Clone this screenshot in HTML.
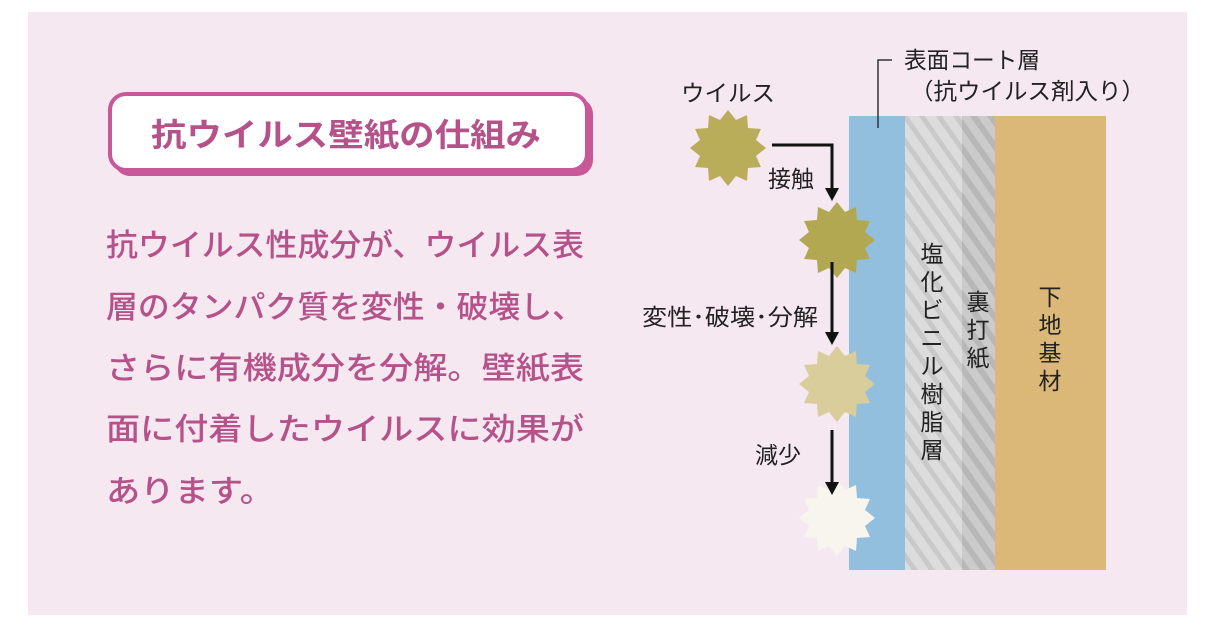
<!DOCTYPE html>
<html><head><meta charset="utf-8"><style>
html,body{margin:0;padding:0;background:#fff;}
svg{display:block;}
text{font-family:"Liberation Sans","Noto Sans CJK JP",sans-serif;}
</style></head><body>
<svg width="1221" height="640" viewBox="0 0 1221 640" xmlns="http://www.w3.org/2000/svg">
<defs>
<pattern id="st1" width="14" height="14" patternUnits="userSpaceOnUse" patternTransform="rotate(-35)">
<rect width="14" height="14" fill="#dcdcdc"/><rect width="5" height="14" fill="#c9c9c9"/>
</pattern>
<pattern id="st2" width="14" height="14" patternUnits="userSpaceOnUse" patternTransform="rotate(-35)">
<rect width="14" height="14" fill="#cbcbcb"/><rect width="6" height="14" fill="#b7b7b7"/>
</pattern>
<polygon id="star" points="0,-38 8,-28 19,-33 20,-20 33,-19 28,-8 38,0 28,8 33,19 20,20 19,33 8,28 0,38 -8,28 -19,33 -20,20 -33,19 -28,8 -38,0 -28,-8 -33,-19 -20,-20 -19,-33 -8,-28"/>
</defs>
<rect x="28" y="12" width="1159" height="603" fill="#f5e8f0"/>
<rect x="114" y="98" width="479" height="78" rx="16" fill="#c8589a"/>
<rect x="110" y="94" width="477" height="76" rx="16" fill="#fff" stroke="#c8589a" stroke-width="4"/>
<text x="346" y="146" font-size="32" font-weight="bold" fill="#b5528a" text-anchor="middle" textLength="390" lengthAdjust="spacingAndGlyphs">抗ウイルス壁紙の仕組み</text>
<g font-size="31" fill="#b5528a" font-weight="500">
<text x="106" y="256" textLength="478" lengthAdjust="spacingAndGlyphs">抗ウイルス性成分が、ウイルス表</text>
<text x="106" y="318" textLength="478" lengthAdjust="spacingAndGlyphs">層のタンパク質を変性・破壊し、</text>
<text x="106" y="379" textLength="478" lengthAdjust="spacingAndGlyphs">さらに有機成分を分解。壁紙表</text>
<text x="106" y="440" textLength="478" lengthAdjust="spacingAndGlyphs">面に付着したウイルスに効果が</text>
<text x="106" y="502" textLength="168" lengthAdjust="spacingAndGlyphs">あります。</text>
</g>
<rect x="849" y="116" width="56" height="454" fill="#93bfdf"/>
<rect x="905" y="116" width="57" height="454" fill="url(#st1)"/>
<rect x="962" y="116" width="33" height="454" fill="url(#st2)"/>
<rect x="995" y="116" width="111" height="454" fill="#dbb878"/>
<polyline points="878,128 878,60 892,60" fill="none" stroke="#333" stroke-width="1.5"/>
<g font-size="23" fill="#222">
<text x="904" y="68" textLength="136" lengthAdjust="spacingAndGlyphs">表面コート層</text>
<text x="910" y="99" textLength="235" lengthAdjust="spacingAndGlyphs">（抗ウイルス剤入り）</text>
<text x="681" y="101" textLength="94" lengthAdjust="spacingAndGlyphs">ウイルス</text>
<text x="768" y="187">接触</text>
<text x="642" y="325" textLength="176" lengthAdjust="spacingAndGlyphs">変性･破壊･分解</text>
<text x="755" y="463">減少</text>
</g>
<g font-size="23" fill="#222" text-anchor="middle">
<text x="932" y="262">塩</text><text x="932" y="290">化</text><text x="932" y="318">ビ</text><text x="932" y="346">ニ</text><text x="932" y="374">ル</text><text x="932" y="402">樹</text><text x="932" y="430">脂</text><text x="932" y="458">層</text>
<text x="978" y="310">裏</text><text x="978" y="338">打</text><text x="978" y="366">紙</text>
<text x="1050" y="305">下</text><text x="1050" y="333">地</text><text x="1050" y="361">基</text><text x="1050" y="389">材</text>
</g>
<use href="#star" x="728" y="148" fill="#b9ad5a"/>
<use href="#star" x="837" y="240" fill="#b3a852"/>
<use href="#star" x="837" y="384" fill="#d8cd9b"/>
<use href="#star" x="837" y="518" fill="#f7f5ee"/>
<g stroke="#111" stroke-width="3" fill="none">
<polyline points="772,145 832,145 832,190"/>
<line x1="832" y1="262" x2="832" y2="334"/>
<line x1="832" y1="430" x2="832" y2="484"/>
</g>
<g fill="#111">
<polygon points="825,188 839,188 832,201"/>
<polygon points="825,332 839,332 832,345"/>
<polygon points="825,482 839,482 832,495"/>
</g>
</svg>
</body></html>
